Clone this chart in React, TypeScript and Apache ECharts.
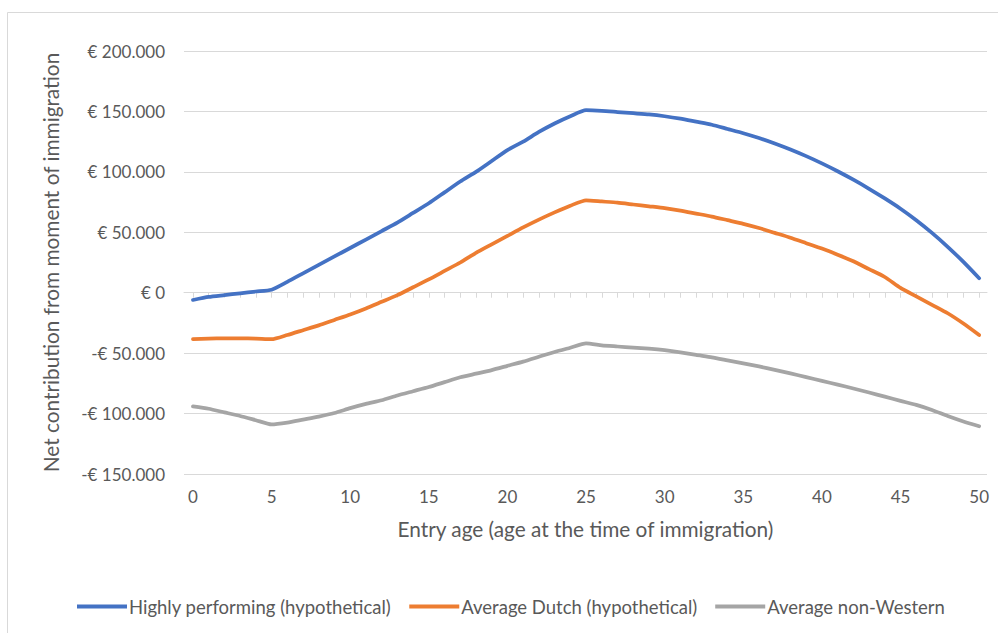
import React, { useEffect, useRef } from "react";
import * as echarts from "echarts";

const ages: number[] = Array.from({ length: 51 }, (_, i) => i);

const highlyPerforming: number[] = [
  -6000, -3500, -2000, -500, 1000, 2500, 9000, 16000, 23000, 30000,
  37000, 44000, 51000, 58000, 66000, 74000, 83000, 92000, 100000, 109000,
  118000, 125000, 133000, 140000, 146000, 151000, 150500, 149500, 148500, 147500,
  146000, 144000, 141500, 139000, 135500, 132000, 128000, 123500, 118500, 113000,
  107000, 100500, 93500, 86000, 78000, 69500, 60000, 49500, 38000, 25500,
  12000,
];

const averageDutch: number[] = [
  -38500, -38000, -37800, -37800, -38000, -38500, -35000, -31000, -27000, -22500,
  -18000, -13000, -7500, -2000, 4500, 11000, 18000, 25000, 33000, 40000,
  47000, 54000, 60500, 66500, 72000, 76500, 75500, 74500, 73000, 71500,
  70000, 68000, 65500, 63000, 60000, 57000, 53500, 49500, 45500, 41000,
  36500, 31500, 26000, 19500, 13000, 4000, -3000, -10000, -17000, -25500,
  -35000,
];

const averageNonWestern: number[] = [
  -94000, -96000, -99000, -102000, -105500, -109000, -107500, -105000, -102500, -99500,
  -95500, -92000, -89000, -85000, -81500, -78000, -74000, -70000, -67000, -64000,
  -60500, -57000, -53000, -49000, -45500, -42000, -43500, -44500, -45500, -46300,
  -47500, -49300, -51500, -53500, -56000, -58500, -61000, -63800, -66800, -69800,
  -73000, -76000, -79300, -82600, -86000, -89500, -92800, -97000, -102000, -106500,
  -110500,
];

const xLabelValues: number[] = [0, 5, 10, 15, 20, 25, 30, 35, 40, 45, 50];
const seriesNames: string[] = [
  "Highly performing (hypothetical)",
  "Average Dutch (hypothetical)",
  "Average non-Western",
];

const FONT = "Lato, 'Open Sans', sans-serif";

function fmtEuro(v: number): string {
  const abs = Math.abs(v);
  const s = abs.toString().replace(/\B(?=(\d{3})+(?!\d))/g, ".");
  return (v < 0 ? "-€ " : "€ ") + s;
}

export default function App() {
  const ref = useRef<HTMLDivElement>(null);
  useEffect(() => {
    if (!ref.current) return;
    const chart = echarts.init(ref.current, undefined, { renderer: "svg" });
    const mk = (name: string, data: number[], color: string) => ({
      type: "line",
      name,
      data: ages.map((a, i) => [a, data[i]]),
      xAxisIndex: 0,
      yAxisIndex: 0,
      showSymbol: false,
      symbol: "none",
      smooth: 0.2,
      lineStyle: { color, width: 3.75, cap: "round", join: "round" },
      itemStyle: { color },
      z: 3,
    });
    chart.setOption({
      animation: false,
      backgroundColor: "#ffffff",
      graphic: [
        {
          type: "rect",
          shape: { x: 7.5, y: 12.5, width: 1000, height: 700 },
          style: { fill: "none", stroke: "#d9d9d9", lineWidth: 1 },
          silent: true,
          z: -1,
        },
      ],
      grid: { left: 184, right: 11, top: 51, bottom: 159, containLabel: false },
      legend: {
        bottom: 12,
        left: 72,
        itemWidth: 50,
        itemHeight: 4,
        itemGap: 18,
        icon: "rect",
        textStyle: { color: "#595959", fontSize: 18.5, fontFamily: FONT, padding: [0, 0, 0, -3] },
        data: seriesNames,
      },
      xAxis: [
        {
          type: "value",
          min: -0.57,
          max: 50.5,
          position: "bottom",
          axisLine: { show: false, onZero: false },
          axisTick: { show: false },
          splitLine: { show: false },
          axisLabel: {
            customValues: xLabelValues,
            color: "#595959",
            fontSize: 17,
            fontFamily: FONT,
            margin: 14,
          },
          name: "Entry age (age at the time of immigration)",
          nameLocation: "middle",
          nameGap: 44,
          nameTextStyle: { color: "#595959", fontSize: 20.8, fontFamily: FONT },
        },
        {
          type: "value",
          min: -0.57,
          max: 50.5,
          position: "top",
          axisLine: { show: true, onZero: true, lineStyle: { color: "#d9d9d9", width: 1 } },
          axisTick: {
            show: true,
            inside: true,
            length: 5,
            customValues: ages,
            lineStyle: { color: "#d9d9d9", width: 1 },
          },
          axisLabel: { show: false },
          splitLine: { show: false },
        },
      ],
      yAxis: {
        type: "value",
        min: -150000,
        max: 200000,
        interval: 50000,
        axisLine: { show: false },
        axisTick: { show: false },
        splitLine: { show: true, lineStyle: { color: "#d9d9d9", width: 1 } },
        axisLabel: {
          formatter: (v: number) => fmtEuro(v),
          color: "#595959",
          fontSize: 17,
          fontFamily: FONT,
          margin: 19,
        },
        name: "Net contribution from moment of immigration",
        nameLocation: "middle",
        nameGap: 123,
        nameTextStyle: { color: "#595959", fontSize: 20.8, fontFamily: FONT },
      },
      series: [
        mk(seriesNames[0], highlyPerforming, "#4472C4"),
        mk(seriesNames[1], averageDutch, "#ED7D31"),
        mk(seriesNames[2], averageNonWestern, "#A5A5A5"),
      ],
    });
    return () => chart.dispose();
  }, []);
  return (
    <div
      ref={ref}
      style={{ position: "fixed", left: 0, top: 0, width: 998, height: 633 }}
    />
  );
}
